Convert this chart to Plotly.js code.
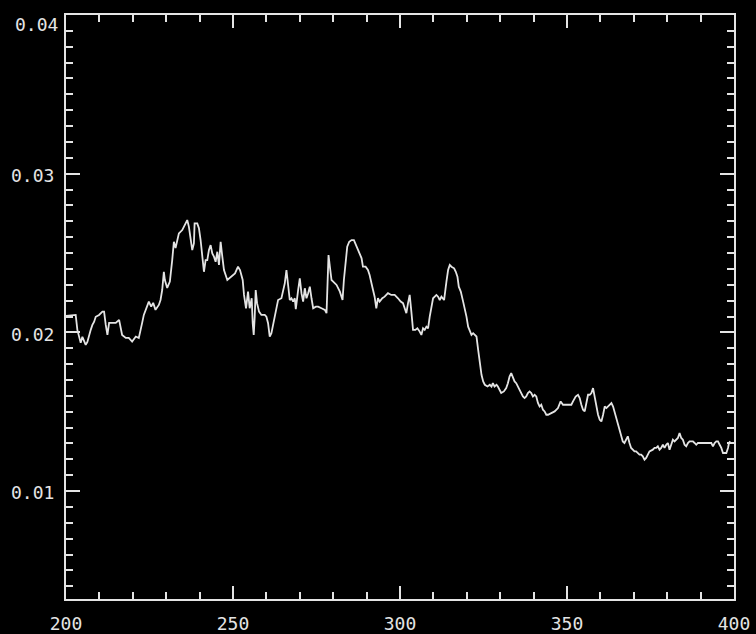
<!DOCTYPE html>
<html>
<head>
<meta charset="utf-8">
<script src="https://cdn.plot.ly/plotly-3.0.1.min.js"></script>
<style>
  html, body { margin: 0; padding: 0; background: #000; }
  #chart { width: 756px; height: 634px; }
</style>
</head>
<body>
<div id="chart"></div>
<script>
// Spectrum samples: abscissa (200-400) and measured signal
const wavelength = [
  200.0,202.9,203.4,203.9,204.4,204.9,205.4,205.9,206.4,206.9,207.4,207.9,208.4,208.9,209.9,210.9,211.4,211.9,212.4,212.9,
  213.9,214.9,215.9,216.4,216.8,217.9,218.8,219.8,220.9,221.8,222.3,222.8,223.3,224.3,224.8,225.5,226.1,226.8,227.8,228.3,
  228.8,229.3,229.6,230.3,231.1,231.8,232.3,232.8,233.3,233.8,234.8,235.8,236.3,236.8,237.3,237.8,238.3,238.5,239.3,239.8,
  240.3,240.8,241.3,241.8,242.3,242.8,243.3,243.8,244.3,244.8,245.3,245.8,246.3,246.8,247.3,248.3,249.3,250.6,251.5,252.1,
  252.9,253.3,253.9,254.2,254.5,255.0,255.6,255.9,256.2,256.5,256.8,257.2,257.8,258.5,259.5,260.0,260.5,261.0,261.5,262.0,
  262.5,263.0,263.5,264.5,265.0,265.5,266.0,266.5,267.0,267.5,268.0,268.5,268.8,269.5,270.0,270.5,271.0,271.5,272.0,272.5,
  273.0,273.5,274.0,274.8,275.5,276.5,277.5,278.0,278.2,278.6,279.0,279.5,280.0,281.0,282.0,282.8,283.2,283.8,284.2,284.8,
  285.5,286.2,287.0,287.7,288.5,288.9,289.7,290.4,290.9,291.7,292.4,292.9,293.4,293.9,294.7,295.4,296.4,297.4,298.4,299.4,
  300.2,300.9,301.4,301.9,302.4,302.9,303.4,303.9,304.6,305.2,305.9,306.4,306.9,307.4,307.9,308.4,308.9,309.4,309.9,310.9,
  311.4,311.9,312.4,313.2,313.4,313.9,314.4,314.9,315.4,316.2,316.7,317.2,317.6,318.2,318.9,319.4,319.9,320.4,320.9,321.4,
  321.9,322.4,322.9,323.4,323.9,324.4,324.9,325.4,326.2,326.9,327.4,327.8,328.3,328.9,329.3,329.8,330.3,331.1,331.8,332.3,
  332.8,333.3,333.8,334.3,334.8,335.3,335.8,336.3,336.8,337.3,337.8,338.3,338.8,339.3,339.8,340.3,340.8,341.3,341.8,342.3,
  342.8,343.3,343.8,344.3,345.3,346.3,347.3,348.1,348.8,349.3,350.3,351.3,351.8,352.6,353.3,353.8,354.3,354.8,355.3,355.8,
  356.3,356.8,357.3,357.8,358.3,358.8,359.3,359.8,360.3,360.8,361.3,361.8,362.3,362.8,363.3,363.8,364.3,364.8,365.2,365.7,
  366.2,366.7,367.2,367.7,368.2,368.7,369.2,369.7,370.2,370.7,371.2,371.7,372.2,372.7,373.2,373.7,374.2,374.7,375.7,376.2,
  376.7,377.2,377.7,378.2,378.7,379.2,379.7,380.2,380.7,381.2,381.7,382.2,382.7,383.2,383.7,384.2,384.7,385.2,385.7,386.2,
  386.7,387.7,388.2,388.7,389.2,390.7,393.2,393.7,394.2,394.7,395.2,395.7,396.2,396.7,397.7,398.2,398.5,398.9
];
const signal = [
  0.02104,0.02110,0.02016,0.01965,0.01934,0.01972,0.01940,0.01921,0.01940,0.01984,0.02016,0.02047,0.02066,0.02098,0.02110,0.02131,0.02131,0.02047,0.01984,0.02060,
  0.02060,0.02060,0.02079,0.02036,0.01984,0.01965,0.01965,0.01942,0.01974,0.01965,0.02005,0.02060,0.02110,0.02162,0.02194,0.02162,0.02186,0.02142,0.02173,0.02204,
  0.02267,0.02382,0.02330,0.02280,0.02320,0.02456,0.02571,0.02532,0.02571,0.02624,0.02645,0.02687,0.02708,0.02665,0.02603,0.02519,0.02561,0.02687,0.02687,0.02657,
  0.02582,0.02456,0.02382,0.02456,0.02456,0.02519,0.02550,0.02498,0.02477,0.02445,0.02508,0.02425,0.02571,0.02477,0.02393,0.02330,0.02351,0.02372,0.02414,0.02393,
  0.02330,0.02236,0.02152,0.02215,0.02257,0.02152,0.02215,0.02058,0.01984,0.02099,0.02267,0.02184,0.02131,0.02110,0.02110,0.02099,0.02058,0.01974,0.01995,0.02047,
  0.02099,0.02152,0.02204,0.02215,0.02267,0.02309,0.02393,0.02299,0.02204,0.02215,0.02194,0.02215,0.02146,0.02267,0.02341,0.02247,0.02194,0.02278,0.02215,0.02247,
  0.02288,0.02215,0.02152,0.02162,0.02162,0.02152,0.02142,0.02121,0.02288,0.02487,0.02414,0.02330,0.02320,0.02299,0.02257,0.02204,0.02330,0.02477,0.02540,0.02571,
  0.02582,0.02582,0.02540,0.02508,0.02467,0.02414,0.02414,0.02393,0.02362,0.02288,0.02225,0.02152,0.02215,0.02194,0.02215,0.02225,0.02247,0.02236,0.02236,0.02215,
  0.02194,0.02184,0.02152,0.02121,0.02184,0.02236,0.02131,0.02016,0.02016,0.02026,0.02005,0.01984,0.02026,0.02016,0.02036,0.02026,0.02099,0.02173,0.02215,0.02236,
  0.02225,0.02204,0.02225,0.02204,0.02247,0.02320,0.02393,0.02425,0.02414,0.02404,0.02382,0.02351,0.02288,0.02257,0.02194,0.02152,0.02099,0.02036,0.02005,0.01984,
  0.01995,0.01984,0.01974,0.01890,0.01806,0.01733,0.01691,0.01670,0.01659,0.01670,0.01659,0.01680,0.01659,0.01670,0.01659,0.01638,0.01618,0.01628,0.01649,0.01680,
  0.01722,0.01743,0.01712,0.01691,0.01680,0.01659,0.01638,0.01618,0.01596,0.01586,0.01596,0.01618,0.01628,0.01618,0.01596,0.01607,0.01596,0.01555,0.01533,0.01544,
  0.01513,0.01502,0.01481,0.01481,0.01492,0.01502,0.01523,0.01565,0.01544,0.01544,0.01544,0.01544,0.01565,0.01596,0.01607,0.01586,0.01544,0.01513,0.01502,0.01555,
  0.01607,0.01607,0.01618,0.01649,0.01596,0.01523,0.01481,0.01450,0.01439,0.01481,0.01533,0.01523,0.01533,0.01544,0.01555,0.01533,0.01492,0.01460,0.01429,0.01387,
  0.01355,0.01313,0.01303,0.01324,0.01345,0.01303,0.01272,0.01261,0.01250,0.01250,0.01240,0.01230,0.01230,0.01219,0.01198,0.01209,0.01230,0.01250,0.01261,0.01272,
  0.01272,0.01282,0.01261,0.01272,0.01292,0.01272,0.01292,0.01303,0.01261,0.01292,0.01324,0.01313,0.01324,0.01335,0.01366,0.01335,0.01324,0.01292,0.01282,0.01303,
  0.01313,0.01313,0.01303,0.01292,0.01303,0.01303,0.01303,0.01282,0.01303,0.01313,0.01313,0.01292,0.01272,0.01240,0.01240,0.01272,0.01303,0.01313
];

// Axis ticks and labels
const xTickVals = [200, 250, 300, 350, 400];
const xTickText = ['200', '250', '300', '350', '400'];
const yTickVals = [0.01, 0.02, 0.03, 0.04];
const yTickText = ['0.01', '0.02', '0.03', ''];
const yTopLabel = '0.04';

const ink = '#e4e4e4';
const tickFont = { family: 'DejaVu Sans Mono, monospace', size: 18, color: ink };

const trace = {
  x: wavelength,
  y: signal,
  type: 'scatter',
  mode: 'lines',
  line: { color: ink, width: 1.8 },
  hoverinfo: 'skip'
};

const layout = {
  width: 756,
  height: 634,
  paper_bgcolor: '#000',
  plot_bgcolor: '#000',
  showlegend: false,
  margin: { l: 66, r: 22, t: 15, b: 35, pad: 0 },
  xaxis: {
    range: [200, 400],
    tickmode: 'array',
    tickvals: xTickVals,
    ticktext: xTickText,
    ticks: 'inside',
    ticklen: 13,
    tickwidth: 2,
    tickcolor: ink,
    showline: true,
    linecolor: ink,
    linewidth: 2,
    mirror: 'ticks',
    showgrid: false,
    zeroline: false,
    tickfont: tickFont,
    ticklabelstandoff: 7,
    minor: { ticks: 'inside', ticklen: 7, tickwidth: 2, tickcolor: ink, dtick: 10, tick0: 200, showgrid: false }
  },
  yaxis: {
    range: [0.0032, 0.04],
    tickmode: 'array',
    tickvals: yTickVals,
    ticktext: yTickText,
    ticks: 'inside',
    ticklen: 14,
    tickwidth: 2,
    tickcolor: ink,
    showline: true,
    linecolor: ink,
    linewidth: 2,
    mirror: 'ticks',
    showgrid: false,
    zeroline: false,
    tickfont: tickFont,
    ticklabelstandoff: 6,
    ticklabelshift: 2,
    minor: { ticks: 'inside', ticklen: 7, tickwidth: 2, tickcolor: ink, dtick: 0.001, tick0: 0, showgrid: false }
  },
  annotations: [{
    text: yTopLabel,
    xref: 'paper', x: 0, xanchor: 'right', xshift: -6,
    yref: 'y', y: 0.04, yanchor: 'middle', yshift: -9,
    showarrow: false,
    font: tickFont
  }]
};

Plotly.newPlot('chart', [trace], layout, { displayModeBar: false, staticPlot: true });
</script>
</body>
</html>
